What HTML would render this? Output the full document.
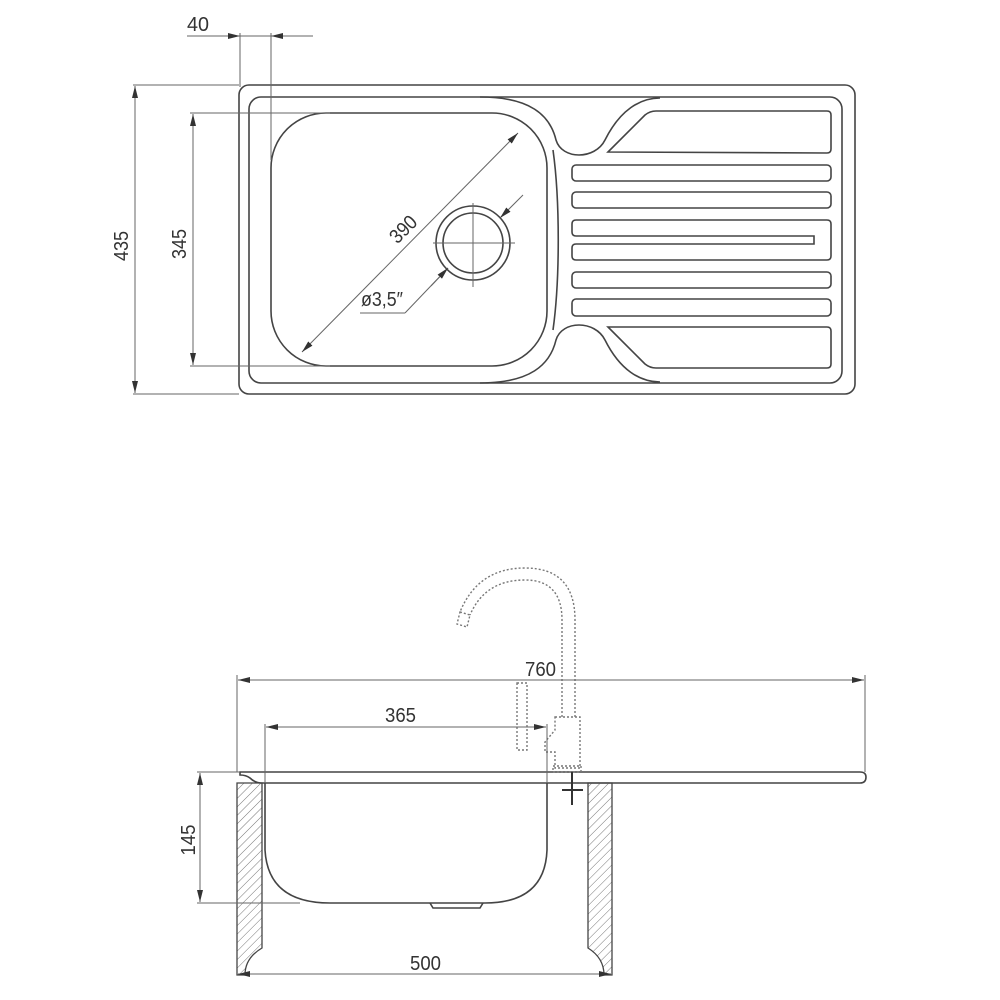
<!DOCTYPE html>
<html><head><meta charset="utf-8"><style>
html,body{margin:0;padding:0;background:#fff}
svg{display:block}
text{font-family:"Liberation Sans",sans-serif;font-size:20px;fill:#333}
</style></head><body>
<svg width="1000" height="1000" viewBox="0 0 1000 1000" xmlns="http://www.w3.org/2000/svg">
<defs>
<marker id="a" viewBox="0 0 12 6" refX="12" refY="3" markerWidth="12" markerHeight="6" orient="auto-start-reverse" markerUnits="userSpaceOnUse"><path d="M0,0 L12,3 L0,6 z" fill="#333"/></marker>
<pattern id="h" width="6" height="6" patternUnits="userSpaceOnUse" patternTransform="rotate(45)"><line x1="0" y1="0" x2="0" y2="6" stroke="#777" stroke-width="1"/></pattern>
</defs>
<g fill="none" stroke="#444" stroke-width="1.6">
<rect x="239" y="85" width="616" height="309" rx="10"/>
<rect x="249" y="97" width="593" height="286" rx="12"/>
<rect x="271" y="113" width="276" height="253" rx="55"/>
<path d="M480,97 C530,97 550,115 556,140 C562,160 595,160 605,140 C620,110 640,98 660,98"/>
<path d="M480,383 C530,383 550,365 556,340 C562,320 595,320 605,340 C620,370 640,382 660,382"/>
<path d="M553,150 C560,200 560,280 553,330"/>
<path d="M608,152 L645,115 Q650,111 656,111 L827,111 Q831,111 831,115 L831,149 Q831,153 827,153 Z"/>
<path d="M608,327 L645,364 Q650,368 656,368 L827,368 Q831,368 831,364 L831,331 Q831,327 827,327 Z"/>
<rect x="572" y="165" width="259" height="16" rx="4"/>
<rect x="572" y="192" width="259" height="16" rx="4"/>
<path d="M576,220 L827,220 Q831,220 831,224 L831,256 Q831,260 827,260 L576,260 Q572,260 572,256 L572,248 Q572,244 576,244 L814,244 L814,236 L576,236 Q572,236 572,232 L572,224 Q572,220 576,220 Z"/>
<rect x="572" y="272" width="259" height="16" rx="4"/>
<rect x="572" y="299" width="259" height="17" rx="4"/>
<circle cx="473" cy="243" r="37"/>
<circle cx="473" cy="243" r="30"/>
</g>
<g fill="none" stroke="#666" stroke-width="1">
<line x1="433" y1="243" x2="515" y2="243"/><line x1="473" y1="203" x2="473" y2="287"/>
<line x1="302" y1="352" x2="518" y2="133" marker-start="url(#a)" marker-end="url(#a)"/>
<line x1="523" y1="195" x2="500" y2="218" marker-end="url(#a)"/>
<line x1="448" y1="268" x2="405" y2="313"/><line x1="448" y1="268" x2="431" y2="286" marker-start="url(#a)"/>
<line x1="405" y1="313" x2="360" y2="313"/>
<line x1="133" y1="85" x2="239" y2="85"/><line x1="133" y1="394" x2="239" y2="394"/>
<line x1="135" y1="86" x2="135" y2="393" marker-start="url(#a)" marker-end="url(#a)"/>
<line x1="190" y1="113" x2="330" y2="113"/><line x1="190" y1="366" x2="330" y2="366"/>
<line x1="193" y1="114" x2="193" y2="365" marker-start="url(#a)" marker-end="url(#a)"/>
<line x1="240" y1="33" x2="240" y2="87"/><line x1="271" y1="33" x2="271" y2="160"/>
<line x1="187" y1="36" x2="313" y2="36"/>
<line x1="205" y1="36" x2="240" y2="36" marker-end="url(#a)"/>
<line x1="300" y1="36" x2="271" y2="36" marker-end="url(#a)"/>
</g>
<text x="187" y="31" textLength="22" lengthAdjust="spacingAndGlyphs">40</text>
<text transform="translate(128,246) rotate(-90)" text-anchor="middle" textLength="30" lengthAdjust="spacingAndGlyphs">435</text>
<text transform="translate(186,244) rotate(-90)" text-anchor="middle" textLength="30" lengthAdjust="spacingAndGlyphs">345</text>
<text transform="translate(408,234) rotate(-45)" text-anchor="middle" textLength="30" lengthAdjust="spacingAndGlyphs">390</text>
<text x="361" y="306" font-size="18" textLength="42" lengthAdjust="spacingAndGlyphs">ø3,5″</text>
<g fill="none" stroke="#444" stroke-width="1.6">
<path d="M240,772 L860,772 Q866,772 866,777 Q866,783 860,783 L262,783 Q255,783 250,778 Q246,775 240,775 Z"/>
<path d="M265,783 L265,850 Q268,903 330,903 L485,903 Q545,903 547,850 L547,783"/>
<path d="M430,903 L433,908 L480,908 L483,903"/>
</g>
<path d="M237,783 L262,783 L262,948 Q245,958 245,975 L237,975 Z" fill="url(#h)" stroke="#444" stroke-width="1.3"/>
<path d="M588,783 L612,783 L612,975 L604,975 Q604,958 588,948 Z" fill="url(#h)" stroke="#444" stroke-width="1.3"/>
<g fill="none" stroke="#777" stroke-width="1.4" stroke-dasharray="2,2">
<path d="M562,717 L562,620 Q562,580 525,580 Q485,580 470,615"/>
<path d="M575,717 L575,620 Q575,568 525,568 Q478,568 460,612"/>
<path d="M460,612 L470,615 L467,627 L457,624 Z"/>
<path d="M555,717 L580,717 L580,768 L555,768 L555,752 L545,752 L545,742 L555,730 Z"/>
<path d="M517,683 L527,683 L527,750 L517,750 Z"/>
<path d="M553,766 L581,766 L581,772 L553,772 Z"/>
</g>
<g fill="none" stroke="#333" stroke-width="2">
<line x1="572" y1="772" x2="572" y2="805"/><line x1="562" y1="790" x2="583" y2="790"/>
</g>
<g fill="none" stroke="#666" stroke-width="1">
<line x1="237" y1="675" x2="237" y2="772"/><line x1="865" y1="675" x2="865" y2="772"/>
<line x1="238" y1="680" x2="864" y2="680" marker-start="url(#a)" marker-end="url(#a)"/>
<line x1="265" y1="724" x2="265" y2="783"/><line x1="547" y1="724" x2="547" y2="783"/>
<line x1="266" y1="727" x2="546" y2="727" marker-start="url(#a)" marker-end="url(#a)"/>
<line x1="197" y1="772" x2="240" y2="772"/><line x1="197" y1="903" x2="300" y2="903"/>
<line x1="200" y1="773" x2="200" y2="902" marker-start="url(#a)" marker-end="url(#a)"/>
<line x1="238" y1="974" x2="611" y2="974" marker-start="url(#a)" marker-end="url(#a)"/>
</g>
<text x="525" y="676" textLength="31" lengthAdjust="spacingAndGlyphs">760</text>
<text x="385" y="722" textLength="31" lengthAdjust="spacingAndGlyphs">365</text>
<text transform="translate(195,840) rotate(-90)" text-anchor="middle" textLength="31" lengthAdjust="spacingAndGlyphs">145</text>
<text x="410" y="970" textLength="31" lengthAdjust="spacingAndGlyphs">500</text>
</svg>
</body></html>
